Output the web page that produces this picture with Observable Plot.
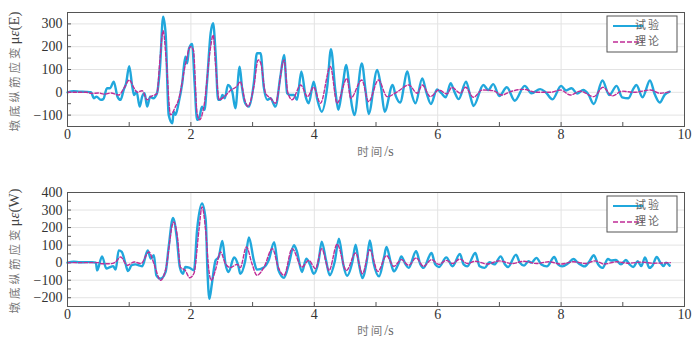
<!DOCTYPE html>
<html>
<head>
<meta charset="utf-8">
<script src="https://cdn.jsdelivr.net/npm/d3@7"></script>
<script src="https://cdn.jsdelivr.net/npm/@observablehq/plot@0.6"></script>
<style>
  html, body { margin: 0; padding: 0; background: #fff; }
  #chart { width: 700px; height: 354px; }
  #chart svg { display: block; }
</style>
</head>
<body>
<div id="chart"></div>
<script>
// ---------- Data ----------
const seriesNames = ["试验", "理论"];
const xTicks = [0, 2, 4, 6, 8, 10];
const xMinor = [0, 1, 2, 3, 4, 5, 6, 7, 8, 9, 10];
const yTicksE = [-100, 0, 100, 200, 300];
const yMinorE = [-150, -100, -50, 0, 50, 100, 150, 200, 250, 300, 350];
const yTicksW = [-200, -100, 0, 100, 200, 300, 400];
const yMinorW = [-250, -200, -150, -100, -50, 0, 50, 100, 150, 200, 250, 300, 350, 400];

// Top panel (E): experiment
const tExpE = [0,0.1,0.2,0.3,0.38,0.43,0.47,0.54,0.58,0.64,0.69,0.75,0.81,0.86,0.91,0.95,1.0,1.05,1.08,1.12,1.17,1.21,1.25,1.29,1.34,1.39,1.45,1.5,1.55,1.59,1.64,1.7,1.72,1.75,1.8,1.86,1.91,1.94,1.97,2.02,2.06,2.1,2.14,2.18,2.22,2.26,2.32,2.36,2.4,2.44,2.48,2.51,2.55,2.6,2.67,2.72,2.79,2.83,2.88,2.94,3.02,3.07,3.13,3.18,3.24,3.29,3.37,3.45,3.51,3.56,3.61,3.67,3.72,3.79,3.86,3.91,3.99,4.05,4.12,4.21,4.27,4.34,4.39,4.45,4.52,4.57,4.61,4.65,4.77,4.83,4.88,5.02,5.08,5.14,5.27,5.32,5.39,5.51,5.57,5.64,5.75,5.82,5.89,5.99,6.06,6.13,6.21,6.27,6.34,6.46,6.53,6.58,6.74,6.82,6.9,7.0,7.12,7.25,7.41,7.52,7.66,7.75,7.86,8.0,8.08,8.17,8.26,8.36,8.44,8.53,8.67,8.78,8.9,8.99,9.09,9.17,9.22,9.32,9.44,9.52,9.6,9.68,9.76];
const vExpE = [0,5,3,2,0,-26,-19,-33,-30,18,18,47,-19,-33,10,40,115,25,-12,3,-63,-19,-4,-63,-19,-26,-4,113,332,259,-99,-136,-85,-99,-48,40,156,127,193,212,40,-121,-107,-63,-77,40,259,303,171,-33,-33,-12,-26,32,3,-70,112,18,-48,-63,40,171,171,25,-33,-26,-63,69,164,-4,-12,-12,-33,91,-19,-48,47,-33,-85,25,189,10,-77,10,120,20,-60,-100,127,10,-95,98,25,-85,32,-16,-45,91,3,-48,61,-4,-51,13,-4,-22,40,3,-30,47,-19,-60,32,10,36,-16,22,-37,28,-4,14,0,-31,28,8,18,-5,10,-8,-51,52,-12,28,-22,-26,15,32,-22,52,-10,-45,-10,3];
// Top panel (E): theory
const tThE = [0,0.3,0.4,0.5,0.6,0.7,0.83,0.92,1.0,1.08,1.13,1.21,1.29,1.35,1.45,1.5,1.55,1.6,1.67,1.75,1.8,1.91,1.99,2.04,2.1,2.14,2.21,2.32,2.36,2.4,2.46,2.54,2.65,2.75,2.8,2.88,2.92,3.02,3.09,3.13,3.21,3.29,3.37,3.51,3.57,3.64,3.78,3.89,3.99,4.1,4.26,4.37,4.53,4.59,4.77,4.88,5.04,5.18,5.35,5.53,5.67,5.75,5.88,6.02,6.15,6.23,6.37,6.45,6.58,6.72,6.9,7.04,7.18,7.39,7.6,7.83,7.99,8.15,8.31,8.53,8.68,8.83,8.99,9.18,9.45,9.6,9.77];
const vThE = [0,0,-5,-3,-8,-3,-12,20,54,18,0,7,-33,-19,-5,150,270,142,-99,-63,-33,120,200,186,-92,-121,-63,200,251,120,-33,-19,10,28,47,-40,-63,25,142,130,-4,-26,-48,142,0,-33,32,-19,22,-48,113,-48,61,-26,54,-41,54,-19,3,32,-4,32,-19,10,-7,22,-4,22,-22,10,7,-12,3,13,0,0,10,-12,5,-19,22,-16,5,0,10,-4,3];

// Bottom panel (W): experiment
const tExpW = [0,0.1,0.2,0.3,0.4,0.46,0.48,0.56,0.63,0.69,0.74,0.78,0.83,0.88,0.94,0.98,1.04,1.1,1.16,1.21,1.3,1.35,1.4,1.44,1.51,1.59,1.64,1.71,1.77,1.82,1.87,1.91,1.97,2.05,2.1,2.18,2.24,2.27,2.3,2.34,2.4,2.45,2.51,2.56,2.61,2.7,2.77,2.8,2.88,2.94,3.02,3.07,3.18,3.26,3.35,3.42,3.51,3.59,3.67,3.72,3.8,3.87,3.93,3.99,4.07,4.12,4.19,4.25,4.33,4.4,4.47,4.53,4.62,4.67,4.72,4.78,4.85,4.9,4.96,5.05,5.13,5.17,5.24,5.29,5.37,5.41,5.48,5.53,5.65,5.72,5.77,5.9,5.96,6.02,6.14,6.24,6.36,6.42,6.48,6.61,6.68,6.76,6.84,6.92,7.02,7.09,7.14,7.27,7.33,7.4,7.47,7.52,7.6,7.68,7.77,7.89,7.95,8.02,8.11,8.2,8.27,8.38,8.46,8.53,8.6,8.67,8.76,8.81,8.89,8.97,9.05,9.11,9.17,9.24,9.3,9.36,9.43,9.48,9.55,9.61,9.66,9.7,9.76];
const vExpW = [0,5,2,3,3,0,-44,36,-34,-25,-20,-40,70,61,-6,-48,-15,-10,-15,-21,70,23,42,-72,-91,-53,90,255,147,-25,-63,-25,-28,-44,185,337,242,-63,-206,-120,13,32,124,-6,-53,29,-20,-63,10,143,13,-40,-28,13,117,-44,-86,-5,99,61,-53,23,-10,-63,10,120,13,-72,4,137,-10,-75,10,103,0,-88,8,126,0,-78,30,89,0,-50,0,36,-10,-30,65,-10,-30,55,-10,-25,30,-21,50,-10,-21,55,-21,-30,2,-10,36,-10,-25,46,0,-17,8,0,27,-10,-21,32,-10,-21,-5,21,0,-21,8,42,-10,-30,21,12,15,-10,15,-10,-25,8,-20,30,-30,-17,32,0,-20,0,-17];
// Bottom panel (W): theory
const tThW = [0,0.5,0.55,0.7,0.78,0.86,0.97,1.08,1.19,1.32,1.4,1.51,1.59,1.72,1.78,1.83,1.91,1.98,2.05,2.13,2.18,2.24,2.29,2.33,2.4,2.48,2.56,2.64,2.75,2.8,2.9,2.99,3.07,3.18,3.32,3.42,3.51,3.64,3.8,3.91,4.02,4.12,4.24,4.37,4.52,4.67,4.78,4.9,5.03,5.17,5.29,5.41,5.53,5.65,5.77,5.9,6.02,6.14,6.24,6.36,6.48,6.61,6.8,7.0,7.2,7.4,7.6,7.8,8.0,8.2,8.4,8.55,8.7,8.9,9.1,9.3,9.5,9.77];
const vThW = [0,0,-6,-6,4,32,-15,4,-5,61,-5,-101,-40,232,150,-25,-45,-86,-60,185,318,180,-40,-101,-40,61,-6,-28,-10,-28,90,-6,-72,-30,80,-30,-72,80,-25,13,-34,80,-44,105,-45,55,-63,74,-50,40,-21,17,-15,27,-21,17,-10,13,-5,21,-5,8,-8,10,-5,8,-5,5,-8,5,-5,10,-8,5,-3,3,-3,0];

// ---------- Styling ----------
const W = 700, H = 177;
const ML = 67, MR = 16;
const cExp = "#20a7dc", cTh = "#c02d96";
const frameCol = "#555";
const gridCol = "#e3e3e3";

function toRows(ts, vs) { return ts.map((t, i) => ({t, v: vs[i]})); }

function panel({tE, vE, tT, vT, yDomain, yTicks, yMinor, tag, mTop, mBottom, labelY, xLabelY}) {
  const innerW = W - ML - MR;
  const innerH = H - mTop - mBottom;
  const svg = Plot.plot({
    width: W, height: H,
    marginLeft: ML, marginRight: MR, marginTop: mTop, marginBottom: mBottom,
    x: {domain: [0, 10]},
    y: {domain: yDomain},
    style: {fontFamily: "'Liberation Serif', 'Times New Roman', serif", fontSize: "14px", color: "#333", background: "#fff"},
    marks: [
      Plot.gridX(xTicks.slice(1, -1), {stroke: gridCol, strokeOpacity: 1}),
      Plot.gridY(yTicks, {stroke: gridCol, strokeOpacity: 1}),
      Plot.axisX(xTicks, {tickSize: 0, tickPadding: 3, label: null, fill: "#333"}),
      Plot.axisY(yTicks, {tickSize: 0, tickPadding: 5, label: null, fill: "#333"}),
      Plot.tickX(xMinor, {x: d => d, insetTop: innerH - 4, stroke: frameCol}),
      Plot.tickY(yMinor, {y: d => d, insetRight: innerW - 4, stroke: frameCol}),
      Plot.line(toRows(tE, vE), {x: "t", y: "v", stroke: cExp, strokeWidth: 2.4, curve: "monotone-x"}),
      Plot.line(toRows(tT, vT), {x: "t", y: "v", stroke: cTh, strokeWidth: 1.4, strokeDasharray: "3.5,2", curve: "monotone-x"}),
      Plot.frame({stroke: frameCol, strokeWidth: 1})
    ]
  });
  const s = d3.select(svg);
  // y-axis label
  const yl = s.append("text")
    .attr("transform", `translate(16,${labelY}) rotate(-90)`)
    .attr("text-anchor", "middle")
    .attr("dominant-baseline", "middle");
  yl.append("tspan").text("墩底纵筋应变")
    .attr("font-family", "'Noto Sans CJK SC', sans-serif").attr("font-size", 11.5)
    .attr("letter-spacing", 3).attr("fill", "#777");
  yl.append("tspan").text("μ").attr("font-size", 15).attr("fill", "#444")
    .attr("font-family", "'Liberation Serif', serif");
  yl.append("tspan").text("ε").attr("font-size", 15).attr("fill", "#444")
    .attr("font-style", "italic").attr("font-family", "'Liberation Serif', serif");
  yl.append("tspan").text(`(${tag})`).attr("font-size", 15).attr("fill", "#444")
    .attr("font-family", "'Liberation Serif', serif");
  // x-axis label
  const xl = s.append("text")
    .attr("x", ML + innerW / 2).attr("y", xLabelY)
    .attr("text-anchor", "middle").attr("dominant-baseline", "middle");
  xl.append("tspan").text("时间")
    .attr("font-family", "'Noto Sans CJK SC', sans-serif").attr("font-size", 11.5)
    .attr("letter-spacing", 2).attr("fill", "#777");
  xl.append("tspan").text("/s").attr("font-size", 14).attr("fill", "#666")
    .attr("font-family", "'Liberation Serif', serif");
  // legend
  const bx = 607, by = mTop + 4, bw = 70, bh = 36;
  const g = s.append("g");
  g.append("rect").attr("x", bx).attr("y", by).attr("width", bw).attr("height", bh)
    .attr("fill", "#fff").attr("stroke", frameCol).attr("stroke-width", 1);
  const rows = [{name: seriesNames[0], color: cExp, dash: null, w: 2},
                {name: seriesNames[1], color: cTh, dash: "5,2", w: 1.6}];
  rows.forEach((r, i) => {
    const yy = by + 10 + i * 16;
    g.append("line").attr("x1", bx + 6).attr("x2", bx + 36).attr("y1", yy).attr("y2", yy)
      .attr("stroke", r.color).attr("stroke-width", r.w)
      .attr("stroke-dasharray", r.dash);
    g.append("text").attr("x", bx + 41).attr("y", yy + 0.5).attr("dominant-baseline", "middle")
      .attr("font-family", "'Noto Sans CJK SC', sans-serif").attr("font-size", 11)
      .attr("letter-spacing", 2).attr("fill", "#666").text(r.name);
  });
  return svg;
}

const chart = document.getElementById("chart");
chart.appendChild(panel({tE: tExpE, vE: vExpE, tT: tThE, vT: vThE,
  yDomain: [-150, 350], yTicks: yTicksE, yMinor: yMinorE, tag: "E",
  mTop: 12, mBottom: 51, labelY: 71.5, xLabelY: 152.5}));
chart.appendChild(panel({tE: tExpW, vE: vExpW, tT: tThW, vT: vThW,
  yDomain: [-250, 400], yTicks: yTicksW, yMinor: yMinorW, tag: "W",
  mTop: 15, mBottom: 48, labelY: 74, xLabelY: 155}));
</script>
</body>
</html>
